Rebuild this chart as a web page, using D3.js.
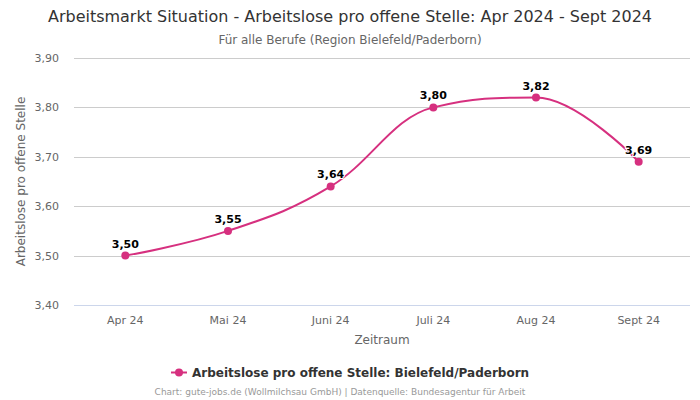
<!DOCTYPE html>
<html><head><meta charset="utf-8">
<script src="https://cdn.jsdelivr.net/npm/d3@7"></script>
<style>body{margin:0;background:#fff}svg{display:block;font-family:"DejaVu Sans",Verdana,sans-serif}</style>
</head><body><svg id="c" width="700" height="400"></svg>
<script>
const categories = ["Apr 24","Mai 24","Juni 24","Juli 24","Aug 24","Sept 24"];
const values = [3.50,3.55,3.64,3.80,3.82,3.69];
const yTicks = [3.40,3.50,3.60,3.70,3.80,3.90];
const seriesName = "Arbeitslose pro offene Stelle: Bielefeld/Paderborn";
const title = "Arbeitsmarkt Situation - Arbeitslose pro offene Stelle: Apr 2024 - Sept 2024";
const subtitle = "Für alle Berufe (Region Bielefeld/Paderborn)";
const credits = "Chart: gute-jobs.de (Wollmilchsau GmbH) | Datenquelle: Bundesagentur für Arbeit";

const color = "#d6307f";
const svg = d3.select("#c");
const L = 74, R = 690, T = 58, B = 305;
const x = d3.scaleBand().domain(categories).range([L, R]);
const y = d3.scaleLinear().domain([3.4, 3.9]).range([B, T]);
const fmt = v => d3.format(".2f")(v).replace(".", ",");

svg.append("text").attr("x",48).attr("y",22).attr("text-anchor","start")
  .attr("font-size",15.5).attr("fill","#333")
  .attr("textLength",604).attr("lengthAdjust","spacingAndGlyphs").text(title);
svg.append("text").attr("x",350).attr("y",44).attr("text-anchor","middle")
  .attr("font-size",12).attr("fill","#666").text(subtitle);

// grid
svg.append("g").selectAll("line").data(yTicks).join("line")
  .attr("x1",L).attr("x2",R).attr("y1",d=>Math.round(y(d))+0.5).attr("y2",d=>Math.round(y(d))+0.5)
  .attr("stroke",d=>d===3.4?"#ccd6eb":"#cccccc").attr("stroke-width",1);
svg.append("g").selectAll("text").data(yTicks).join("text")
  .attr("x",59).attr("y",d=>y(d)+4).attr("text-anchor","end")
  .attr("font-size",11).attr("fill","#666").text(fmt);
svg.append("g").selectAll("text").data(categories).join("text")
  .attr("x",d=>x(d)+x.bandwidth()/2).attr("y",324).attr("text-anchor","middle")
  .attr("font-size",11).attr("fill","#666").text(d=>d);
svg.append("text").attr("x",(L+R)/2).attr("y",344).attr("text-anchor","middle")
  .attr("font-size",12).attr("fill","#666").text("Zeitraum");
svg.append("text").attr("transform",`translate(25,${(T+B)/2}) rotate(-90)`).attr("text-anchor","middle")
  .attr("font-size",12).attr("fill","#666").text("Arbeitslose pro offene Stelle");

// Highcharts-style spline
const pts = values.map((v,i)=>({x:x(categories[i])+x.bandwidth()/2, y:y(v)}));
const path = d3.path();
const s = 1.5, den = s+1;
pts.forEach((p,i)=>{
  if(i===0){path.moveTo(p.x,p.y);return;}
  const last = pts[i-1], next = pts[i+1];
  let lcx=p.x, lcy=p.y;
  if(next){
    lcx=(s*p.x+last.x)/den; lcy=(s*p.y+last.y)/den;
    let rcx=(s*p.x+next.x)/den, rcy=(s*p.y+next.y)/den;
    const corr=((rcy-lcy)*(rcx-p.x))/(rcx-lcx)+p.y-rcy;
    lcy+=corr; rcy+=corr;
    if(lcy>last.y&&lcy>p.y){lcy=Math.max(last.y,p.y);rcy=2*p.y-lcy;}
    else if(lcy<last.y&&lcy<p.y){lcy=Math.min(last.y,p.y);rcy=2*p.y-lcy;}
    if(rcy>next.y&&rcy>p.y){rcy=Math.max(next.y,p.y);lcy=2*p.y-rcy;}
    else if(rcy<next.y&&rcy<p.y){rcy=Math.min(next.y,p.y);lcy=2*p.y-rcy;}
    p.rcx=rcx;p.rcy=rcy;
  }
  path.bezierCurveTo(last.rcx??last.x,last.rcy??last.y,lcx,lcy,p.x,p.y);
});
svg.append("path").attr("d",path.toString()).attr("fill","none").attr("stroke",color).attr("stroke-width",2);
svg.append("g").selectAll("circle").data(pts).join("circle")
  .attr("cx",d=>d.x).attr("cy",d=>d.y).attr("r",4).attr("fill",color);
svg.append("g").selectAll("text").data(values).join("text")
  .attr("x",(d,i)=>pts[i].x).attr("y",(d,i)=>pts[i].y-8).attr("text-anchor","middle")
  .attr("font-size",11).attr("font-weight","bold").attr("fill","#000")
  .attr("stroke","#fff").attr("stroke-width",2).attr("paint-order","stroke").text(fmt);

// legend
const lg = svg.append("g");
lg.append("line").attr("x1",171).attr("x2",187).attr("y1",372.5).attr("y2",372.5).attr("stroke",color).attr("stroke-width",2);
lg.append("circle").attr("cx",179).attr("cy",372.5).attr("r",4).attr("fill",color);
lg.append("text").attr("x",192).attr("y",377).attr("font-size",12).attr("font-weight","bold").attr("fill","#333").text(seriesName);
svg.append("text").attr("x",340).attr("y",395).attr("text-anchor","middle").attr("font-size",9).attr("fill","#999").text(credits);
</script></body></html>
